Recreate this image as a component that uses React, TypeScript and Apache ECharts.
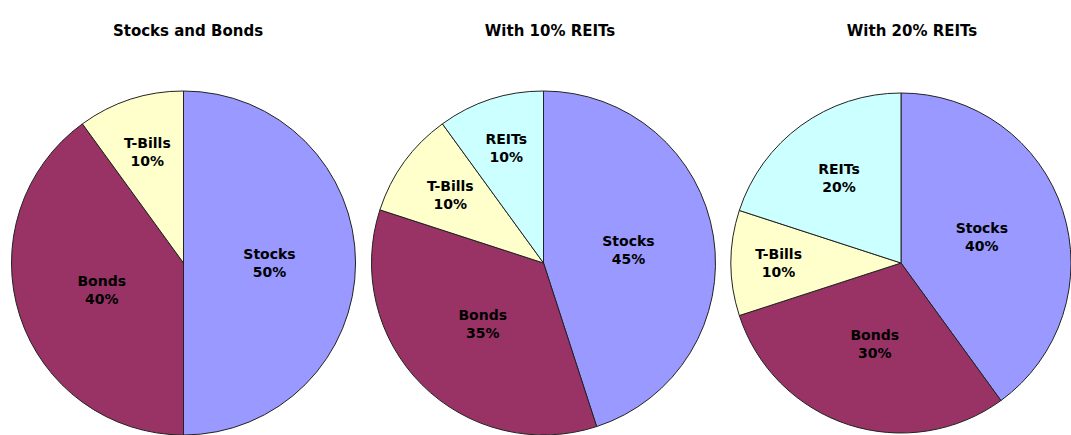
import React, { useEffect, useRef } from "react";
import * as echarts from "echarts";

const titles = ["Stocks and Bonds", "With 10% REITs", "With 20% REITs"];
const categories = ["Stocks", "Bonds", "T-Bills", "REITs"];
const colors = ["#9999FF", "#993366", "#FFFFCC", "#CCFFFF"];
const portfolio1 = [50, 40, 10, 0];
const portfolio2 = [45, 35, 10, 10];
const portfolio3 = [40, 30, 10, 20];
const allData = [portfolio1, portfolio2, portfolio3];

// layout / style
const centersX = [183.5, 543.5, 901];
const titleX = [183, 545, 907];
const centerY = 263;
const radii = [172, 172, 170];
// radial position of each label as fraction of radius (by category index)
const labelFractions = [
  [0.5, 0.5, 0.68, 0.5],
  [0.5, 0.5, 0.67, 0.7],
  [0.5, 0.5, 0.72, 0.62],
];
const FONT = "DejaVu Sans, Verdana, sans-serif";

export default function App() {
  const ref = useRef<HTMLDivElement>(null);
  useEffect(() => {
    if (!ref.current) return;
    const chart = echarts.init(ref.current, null, { renderer: "svg" });
    const series = allData.map((vals, i) => {
      const data = vals
        .map((v, j) => ({
          name: categories[j],
          value: v,
          catIndex: j,
          itemStyle: { color: colors[j] },
        }))
        .filter((d) => d.value > 0);
      return {
        type: "pie",
        center: [centersX[i], centerY],
        radius: [0, radii[i]],
        startAngle: 90,
        clockwise: true,
        avoidLabelOverlap: false,
        emphasis: { disabled: true },
        data,
        itemStyle: { borderColor: "#222", borderWidth: 1 },
        label: {
          show: true,
          position: "inner",
          formatter: "{b}\n{c}%",
          color: "#000",
          fontFamily: FONT,
          fontWeight: "bold",
          fontSize: 14,
          lineHeight: 18,
        },
        labelLine: { show: false },
        labelLayout: (params: any) => {
          const item = data[params.dataIndex];
          if (!item) return {};
          const f = labelFractions[i][item.catIndex];
          const r = radii[i];
          const lr = params.labelRect;
          const lcx = lr.x + lr.width / 2;
          const lcy = lr.y + lr.height / 2;
          const vx = lcx - centersX[i];
          const vy = lcy - centerY;
          const d = Math.sqrt(vx * vx + vy * vy) || 1;
          const tx = (vx / d) * f * r;
          const ty = (vy / d) * f * r;
          return { dx: tx - vx, dy: ty - vy };
        },
      };
    });
    chart.setOption({
      animation: false,
      backgroundColor: "#fff",
      title: titles.map((t, i) => ({
        text: t,
        left: titleX[i],
        top: 18,
        textAlign: "center",
        textStyle: {
          fontFamily: FONT,
          fontWeight: "bold",
          fontSize: 15,
          color: "#000",
        },
      })),
      series,
    });
    return () => chart.dispose();
  }, []);
  return (
    <div
      ref={ref}
      style={{ position: "fixed", left: 0, top: 0, width: 1071, height: 435 }}
    />
  );
}
